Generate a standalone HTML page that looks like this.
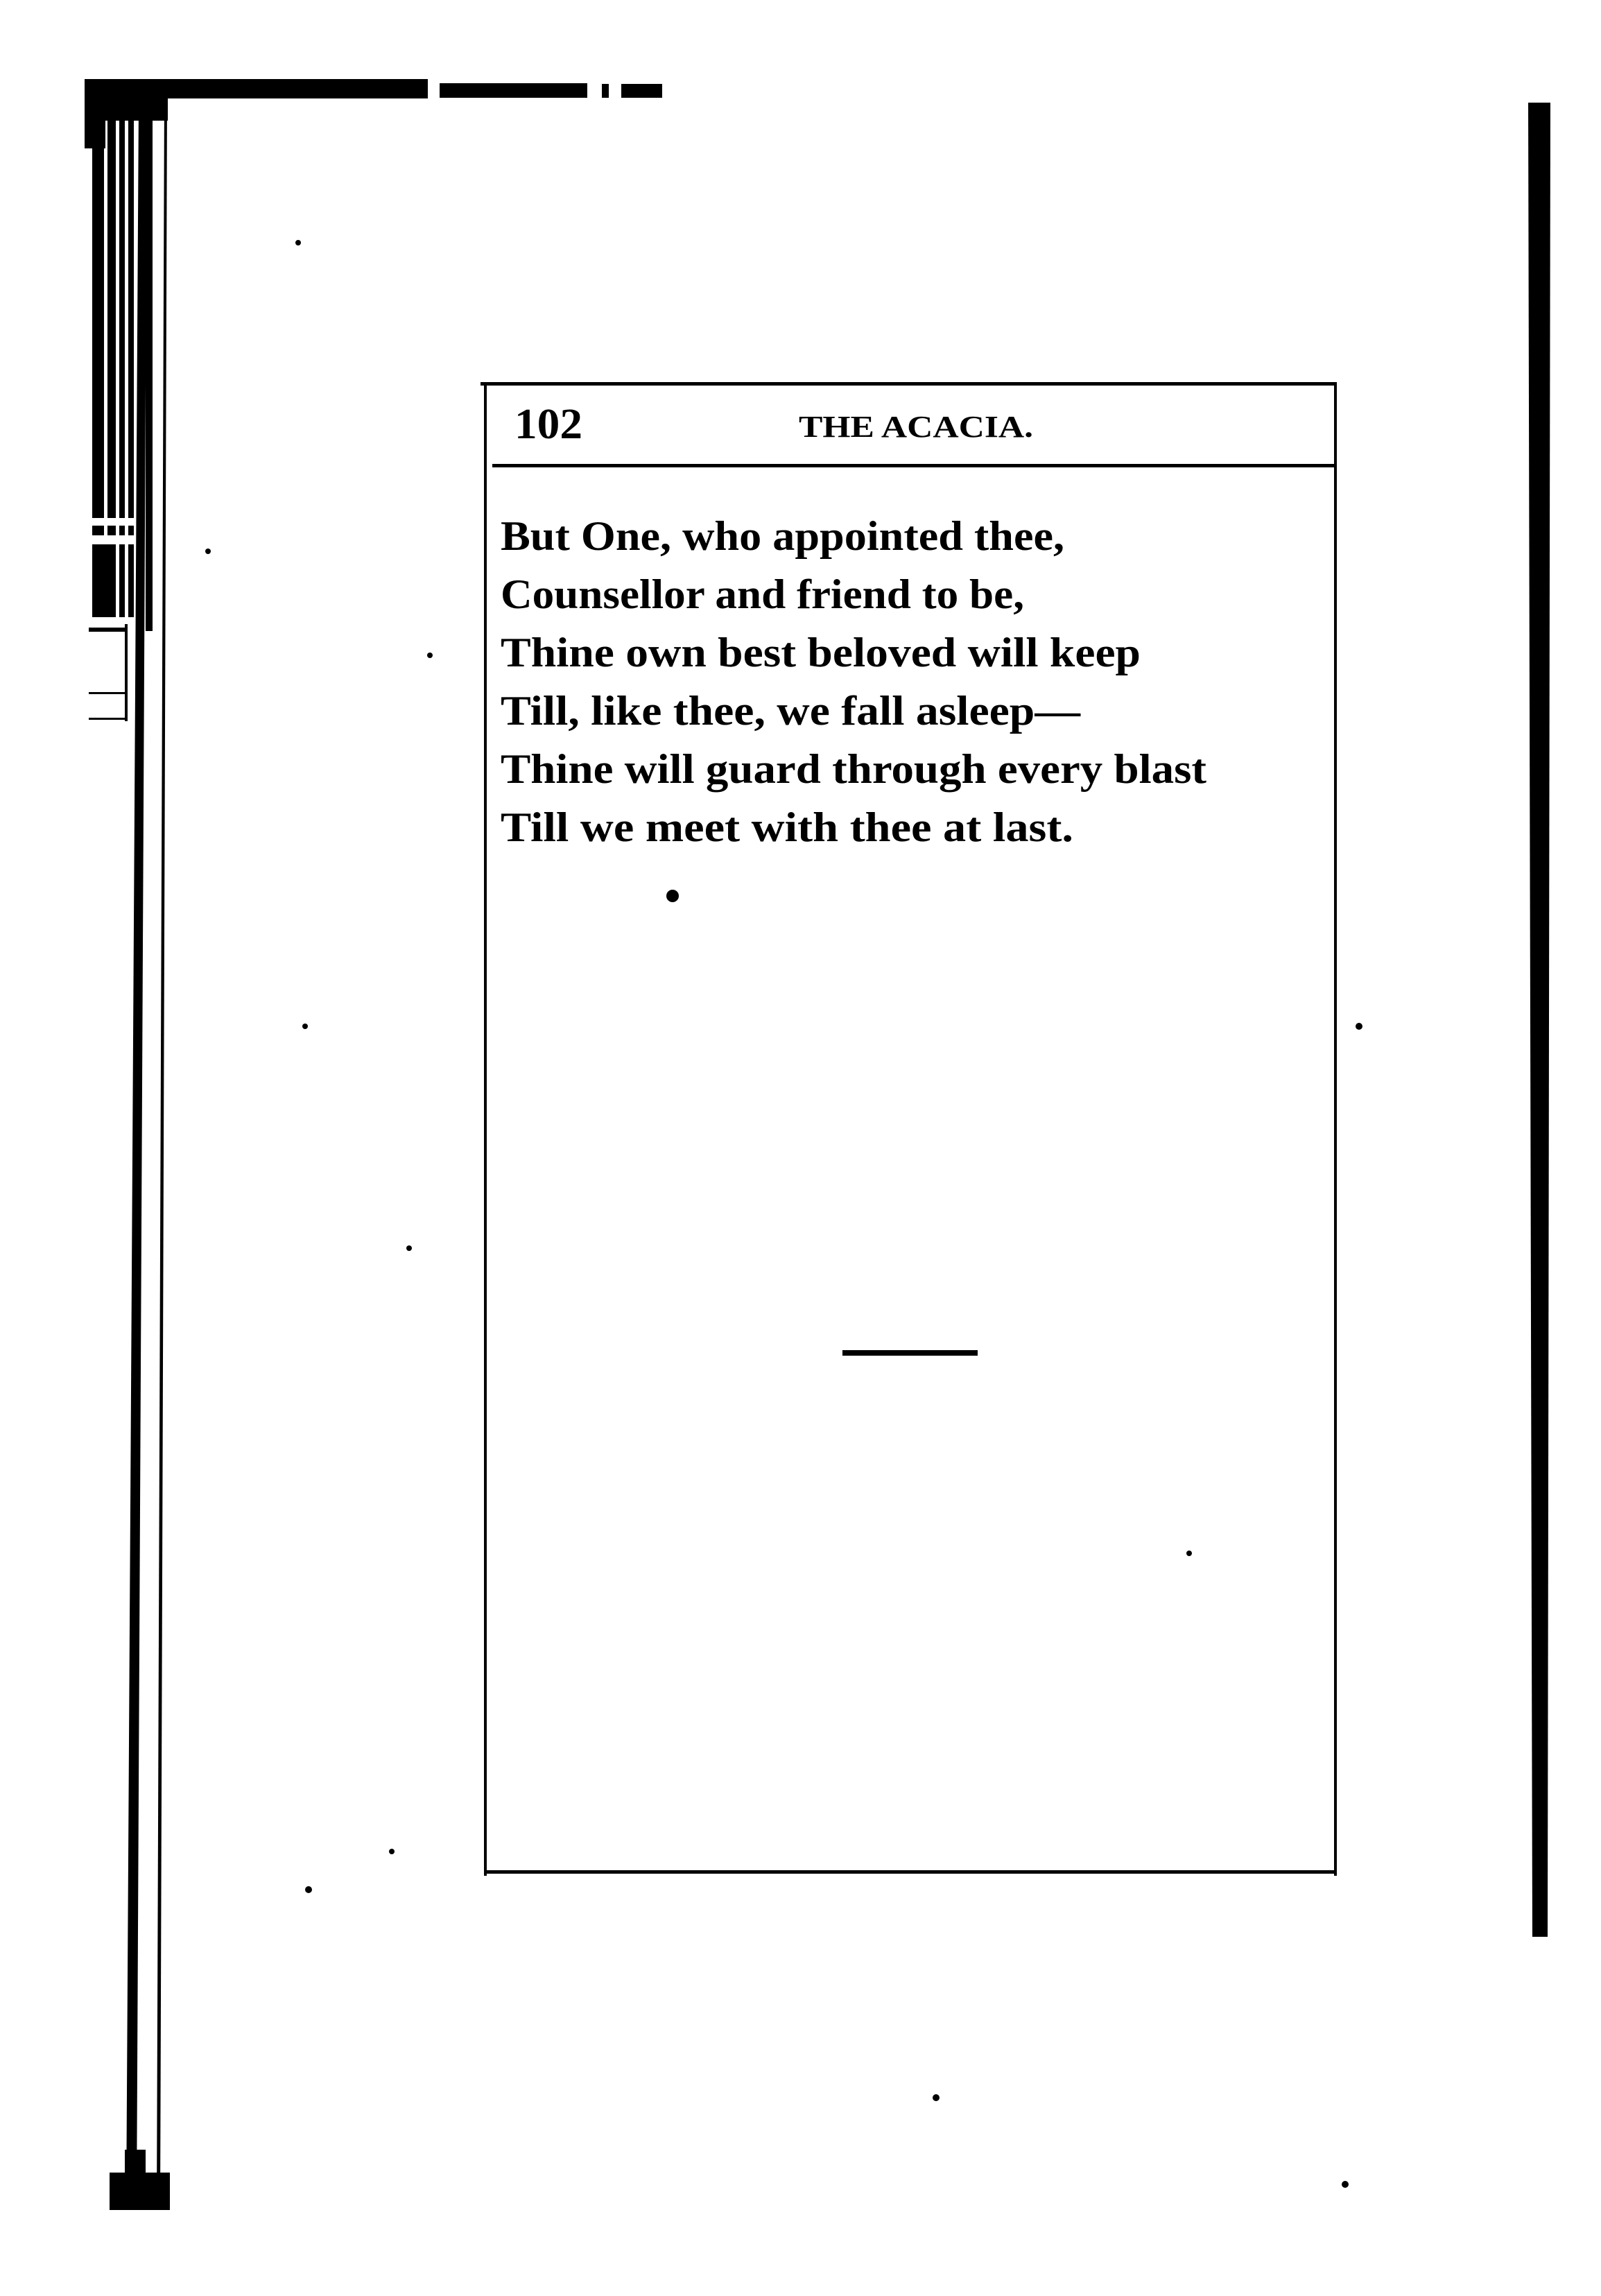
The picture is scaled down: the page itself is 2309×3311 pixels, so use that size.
<!DOCTYPE html>
<html><head><meta charset="utf-8"><style>
html,body{margin:0;padding:0;background:#fff}
svg{display:block}
text{font-family:"Liberation Serif",serif;fill:#000}
</style></head><body>
<svg width="2309" height="3311" viewBox="0 0 2309 3311" xmlns="http://www.w3.org/2000/svg">
<rect width="2309" height="3311" fill="#fff"/>
<!-- top bar segments -->
<rect x="122" y="114" width="495" height="28" fill="#000"/>
<rect x="634" y="120" width="213" height="21" fill="#000"/>
<rect x="868" y="121" width="10" height="20" fill="#000"/>
<rect x="896" y="121" width="59" height="20" fill="#000"/>
<!-- top-left solid corner -->
<rect x="122" y="114" width="120" height="60" fill="#000"/>
<rect x="122" y="114" width="30" height="100" fill="#000"/>
<!-- dense stripes (upper section) -->
<rect x="133" y="150" width="17" height="740" fill="#000"/>
<rect x="155" y="150" width="12" height="740" fill="#000"/>
<rect x="172" y="150" width="8" height="740" fill="#000"/>
<rect x="185" y="150" width="8" height="740" fill="#000"/>
<rect x="210" y="150" width="10" height="760" fill="#000"/>
<rect x="128" y="747" width="70" height="11" fill="#fff"/>
<rect x="128" y="772" width="70" height="13" fill="#fff"/>
<rect x="140" y="785" width="22" height="105" fill="#000"/>
<rect x="128" y="890" width="70" height="15" fill="#fff"/>
<rect x="128" y="905" width="55" height="6" fill="#000"/>
<!-- small marks below -->
<rect x="180" y="900" width="4" height="140" fill="#000"/>
<rect x="128" y="998" width="52" height="3" fill="#000"/>
<rect x="128" y="1035" width="52" height="3" fill="#000"/>
<!-- long thick line, slanting -->
<polygon points="200,150 212,150 197,3187 182,3187" fill="#000"/>
<!-- long thin line -->
<polygon points="237,135 241,135 231,3187 226,3187" fill="#000"/>
<!-- bottom block -->
<rect x="158" y="3133" width="87" height="54" fill="#000"/>
<rect x="180" y="3100" width="30" height="40" fill="#000"/>
<!-- right bar -->
<polygon points="2204,148 2236,148 2232,2793 2210,2793" fill="#000"/>
<!-- page box -->
<rect x="693" y="551" width="1235" height="5" fill="#000"/>
<rect x="698" y="553" width="4" height="2152" fill="#000"/>
<rect x="1924" y="553" width="4" height="2152" fill="#000"/>
<rect x="700" y="2697" width="1228" height="5" fill="#000"/>
<rect x="710" y="669" width="1214" height="5" fill="#000"/>
<!-- header -->
<text x="742" y="632" font-size="62" font-weight="bold" textLength="98" lengthAdjust="spacingAndGlyphs">102</text>
<text x="1152" y="630" font-size="44" font-weight="bold" textLength="338" lengthAdjust="spacingAndGlyphs">THE ACACIA.</text>
<!-- verse -->
<g font-size="60" font-weight="bold">
<text x="722" y="793" textLength="813" lengthAdjust="spacingAndGlyphs">But One, who appointed thee,</text>
<text x="722" y="877" textLength="755" lengthAdjust="spacingAndGlyphs">Counsellor and friend to be,</text>
<text x="722" y="961" textLength="923" lengthAdjust="spacingAndGlyphs">Thine own best beloved will keep</text>
<text x="722" y="1045" textLength="836" lengthAdjust="spacingAndGlyphs">Till, like thee, we fall asleep—</text>
<text x="722" y="1129" textLength="1018" lengthAdjust="spacingAndGlyphs">Thine will guard through every blast</text>
<text x="722" y="1213" textLength="826" lengthAdjust="spacingAndGlyphs">Till we meet with thee at last.</text>
</g>
<!-- specks -->
<circle cx="970" cy="1292" r="9" fill="#000"/>
<rect x="1215" y="1947" width="195" height="8" fill="#000"/>
<circle cx="430" cy="350" r="4" fill="#000"/>
<circle cx="300" cy="795" r="4" fill="#000"/>
<circle cx="620" cy="945" r="4" fill="#000"/>
<circle cx="440" cy="1480" r="4" fill="#000"/>
<circle cx="590" cy="1800" r="4" fill="#000"/>
<circle cx="565" cy="2670" r="4" fill="#000"/>
<circle cx="445" cy="2725" r="5" fill="#000"/>
<circle cx="1960" cy="1480" r="5" fill="#000"/>
<circle cx="1350" cy="3025" r="5" fill="#000"/>
<circle cx="1940" cy="3150" r="5" fill="#000"/>
<circle cx="1715" cy="2240" r="4" fill="#000"/>
</svg>
</body></html>
